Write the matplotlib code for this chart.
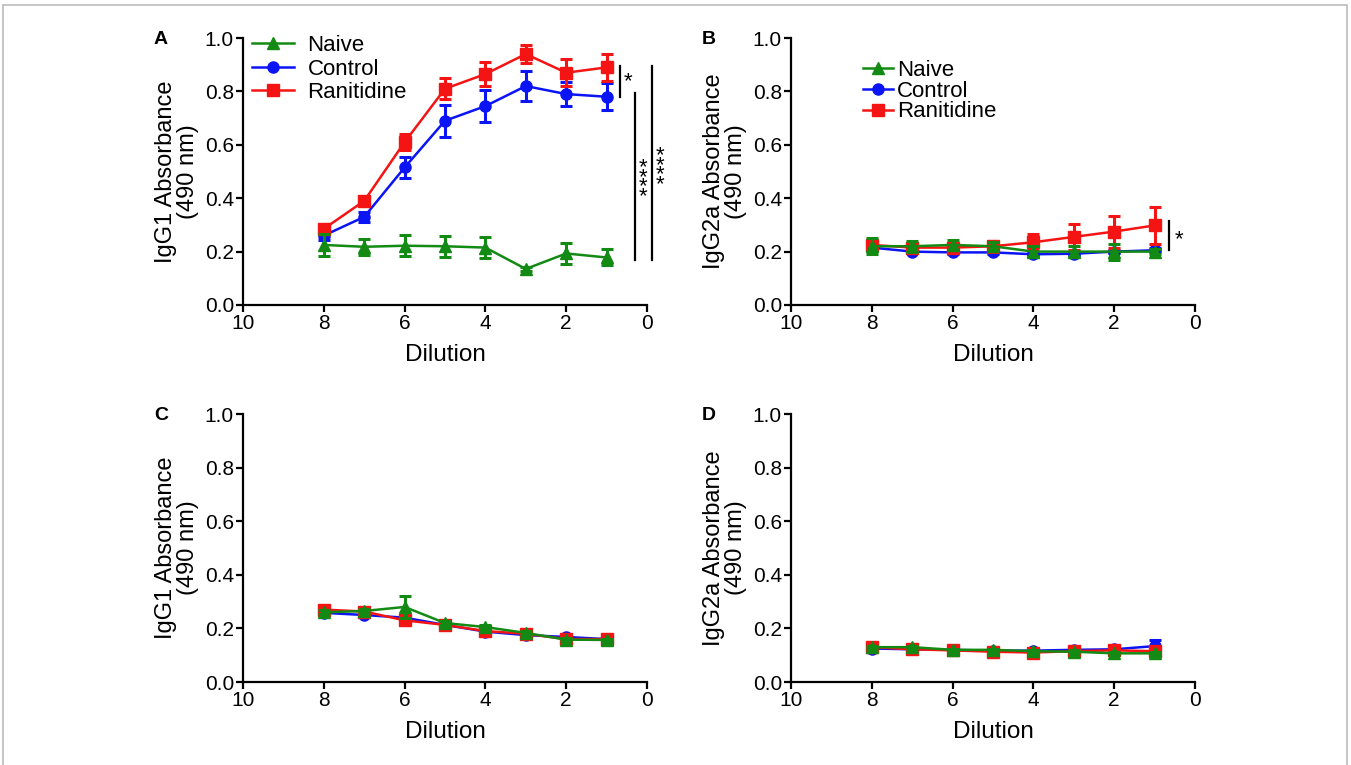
import matplotlib
matplotlib.use("Agg")
import matplotlib.pyplot as plt
from matplotlib.lines import Line2D
from matplotlib.patches import Rectangle

plt.rcParams['font.family'] = ['Liberation Sans', 'DejaVu Sans']

dilution = [8, 7, 6, 5, 4, 3, 2, 1]
groups = ['Naive', 'Control', 'Ranitidine']
colors = {'Naive': '#138a13', 'Control': '#0a14f5', 'Ranitidine': '#f51414'}
markers = {'Naive': '^', 'Control': 'o', 'Ranitidine': 's'}

# panel A - IgG1
a_mean = {
    'Naive':      [0.225, 0.218, 0.222, 0.220, 0.215, 0.135, 0.193, 0.178],
    'Control':    [0.260, 0.330, 0.515, 0.690, 0.745, 0.820, 0.790, 0.780],
    'Ranitidine': [0.285, 0.390, 0.610, 0.810, 0.865, 0.940, 0.870, 0.890],
}
a_err = {
    'Naive':      [0.040, 0.030, 0.040, 0.040, 0.040, 0.008, 0.040, 0.030],
    'Control':    [0.015, 0.020, 0.040, 0.060, 0.060, 0.055, 0.045, 0.050],
    'Ranitidine': [0.010, 0.015, 0.030, 0.040, 0.045, 0.035, 0.050, 0.050],
}
# panel B - IgG2a
b_mean = {
    'Naive':      [0.220, 0.220, 0.225, 0.220, 0.200, 0.200, 0.200, 0.200],
    'Control':    [0.215, 0.200, 0.197, 0.197, 0.190, 0.192, 0.200, 0.205],
    'Ranitidine': [0.225, 0.215, 0.215, 0.220, 0.235, 0.255, 0.275, 0.298],
}
b_err = {
    'Naive':      [0.030, 0.020, 0.020, 0.015, 0.020, 0.020, 0.030, 0.008],
    'Control':    [0.008, 0.005, 0.005, 0.005, 0.005, 0.005, 0.005, 0.008],
    'Ranitidine': [0.020, 0.015, 0.015, 0.020, 0.030, 0.050, 0.060, 0.070],
}
# panel C - IgG1
c_mean = {
    'Naive':      [0.260, 0.265, 0.280, 0.220, 0.205, 0.183, 0.158, 0.157],
    'Control':    [0.258, 0.250, 0.240, 0.213, 0.188, 0.175, 0.168, 0.160],
    'Ranitidine': [0.270, 0.263, 0.230, 0.213, 0.190, 0.180, 0.160, 0.160],
}
c_err = {
    'Naive':      [0.008, 0.008, 0.040, 0.008, 0.008, 0.008, 0.005, 0.005],
    'Control':    [0.005, 0.005, 0.005, 0.005, 0.005, 0.005, 0.005, 0.005],
    'Ranitidine': [0.008, 0.008, 0.008, 0.008, 0.008, 0.008, 0.005, 0.005],
}
# panel D - IgG2a
d_mean = {
    'Naive':      [0.130, 0.130, 0.120, 0.120, 0.115, 0.113, 0.107, 0.107],
    'Control':    [0.125, 0.122, 0.120, 0.117, 0.117, 0.120, 0.122, 0.134],
    'Ranitidine': [0.130, 0.122, 0.118, 0.113, 0.110, 0.115, 0.118, 0.115],
}
d_err = {
    'Naive':      [0.005, 0.005, 0.005, 0.005, 0.005, 0.005, 0.005, 0.005],
    'Control':    [0.005, 0.005, 0.005, 0.005, 0.005, 0.005, 0.005, 0.022],
    'Ranitidine': [0.005, 0.005, 0.005, 0.005, 0.005, 0.005, 0.005, 0.005],
}

fig = plt.figure(figsize=(13.51, 7.65), dpi=100)
W, H = 1351, 765

def make_ax(left_px, bottom_px, top_px):
    return fig.add_axes([left_px / W, 1 - bottom_px / H, 404 / W, (bottom_px - top_px) / H])

axA = make_ax(243, 305, 38)
axB = make_ax(791, 305, 38)
axC = make_ax(243, 682, 414)
axD = make_ax(791, 682, 414)

panels = [
    (axA, a_mean, a_err, 'IgG1 Absorbance\n(490 nm)', 'A'),
    (axB, b_mean, b_err, 'IgG2a Absorbance\n(490 nm)', 'B'),
    (axC, c_mean, c_err, 'IgG1 Absorbance\n(490 nm)', 'C'),
    (axD, d_mean, d_err, 'IgG2a Absorbance\n(490 nm)', 'D'),
]
zord = {'Control': 3, 'Ranitidine': 4, 'Naive': 5}
ms = 8

for ax, means, errs, ylab, letter in panels:
    for g in ['Control', 'Ranitidine', 'Naive']:
        ax.errorbar(dilution, means[g], yerr=errs[g], color=colors[g], marker=markers[g],
                    ms=ms, lw=1.8, elinewidth=2.2, capsize=4.5, capthick=2.2,
                    zorder=zord[g], clip_on=False)
    ax.set_xlim(10, 0)
    ax.set_ylim(0, 1.0)
    ax.set_xticks([10, 8, 6, 4, 2, 0])
    ax.set_yticks([0.0, 0.2, 0.4, 0.6, 0.8, 1.0])
    ax.set_yticklabels(['0.0', '0.2', '0.4', '0.6', '0.8', '1.0'])
    ax.spines['top'].set_visible(False)
    ax.spines['right'].set_visible(False)
    ax.spines['left'].set_linewidth(1.6)
    ax.spines['bottom'].set_linewidth(1.6)
    ax.tick_params(width=1.6, length=5, labelsize=15, pad=1.5, color='black')
    ax.set_xlabel('Dilution', fontsize=17.5, labelpad=8)
    ax.set_ylabel(ylab, fontsize=17, labelpad=4, linespacing=1.0)
    pos = ax.get_position()
    fig.text(pos.x0 - 89 / W, pos.y1 - 1 / H, letter, fontsize=14, fontweight='bold',
             ha='left', va='center')

# legends (line + marker only)
handles = [Line2D([], [], color=colors[g], marker=markers[g], ms=ms, lw=1.8) for g in groups]
axA.legend(handles, groups, loc='upper left', bbox_to_anchor=(0.0, 1.045), frameon=False,
           fontsize=16, borderaxespad=0, labelspacing=0.12, handlelength=1.9, handletextpad=0.6)
axB.legend(handles, groups, loc='upper left', bbox_to_anchor=(0.157, 0.95), frameon=False,
           fontsize=16, borderaxespad=0, labelspacing=-0.02, handlelength=1.35, handletextpad=0.15)

# significance bars
sig_lines_a = [(0.668, 0.779, 0.895), (0.297, 0.169, 0.794), (-0.124, 0.169, 0.895)]
for x, y0, y1 in sig_lines_a:
    axA.plot([x, x], [y0, y1], color='black', lw=1.6, clip_on=False)
axA.text(0.48, 0.835, '*', fontsize=16, ha='center', va='center')
stack = '\n'.join(['*'] * 4)
axA.text(0.099, 0.46, stack, fontsize=16, ha='center', va='center', linespacing=0.3)
axA.text(-0.322, 0.505, stack, fontsize=16, ha='center', va='center', linespacing=0.3)

axB.plot([0.644, 0.644], [0.206, 0.315], color='black', lw=1.6, clip_on=False)
axB.text(0.40, 0.245, '*', fontsize=16, ha='center', va='center')

# outer frame
fig.patches.append(Rectangle((3 / W, -0.05), 1 - 7 / W, 1.05 - 5 / H, transform=fig.transFigure,
                             fill=False, edgecolor='#bbbbbb', lw=1.2))

fig.savefig('out.png', dpi=100)
